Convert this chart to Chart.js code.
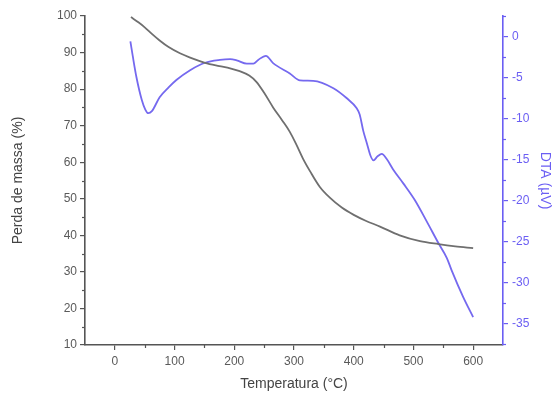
<!DOCTYPE html>
<html>
<head>
<meta charset="utf-8">
<script src="https://cdn.jsdelivr.net/npm/chart.js@4/dist/chart.umd.min.js"></script>
<style>
html,body{margin:0;padding:0;background:#fff;}
canvas{display:block;}
</style>
</head>
<body>
<canvas id="c" width="553" height="393"></canvas>
<script>
// TGA (mass loss) curve
const tgaTemps = [27, 40, 50, 62, 75, 90, 109, 125, 151, 175, 193, 209, 225, 237, 250, 265, 280, 293, 304, 315, 327, 343, 360, 380, 400, 420, 444, 477, 511, 542, 570, 600];
const tgaValues = [99.7, 98.2, 96.9, 95.1, 93.3, 91.5, 89.8, 88.7, 87.2, 86.3, 85.7, 84.9, 83.7, 82.0, 79.0, 75.0, 71.5, 68.3, 64.8, 61.0, 57.5, 53.3, 50.3, 47.6, 45.6, 44.0, 42.4, 40.0, 38.4, 37.6, 37.0, 36.5];
// DTA curve
const dtaTemps = [26, 30, 36, 45, 51, 56, 62, 75, 90, 103, 126, 151, 176, 193, 204, 221, 232, 240, 253, 265, 293, 310, 332, 366, 388, 405, 410, 416, 422, 428, 433, 440, 447, 455, 466, 483, 502, 522, 542, 556, 564, 583, 600];
const dtaValues = [-0.6, -2.4, -4.9, -7.7, -8.9, -9.35, -9.1, -7.4, -6.2, -5.3, -4.1, -3.2, -2.85, -2.76, -2.9, -3.3, -3.3, -2.85, -2.35, -3.25, -4.5, -5.35, -5.4, -6.3, -7.5, -8.75, -9.5, -11.5, -13.0, -14.5, -15.1, -14.6, -14.3, -14.9, -16.2, -17.9, -19.9, -22.5, -25.2, -27.0, -28.5, -31.7, -34.2];

const xTicks = [0, 100, 200, 300, 400, 500, 600];
const xMinor = [50, 150, 250, 350, 450, 550];
const yTicks = [10, 20, 30, 40, 50, 60, 70, 80, 90, 100];
const yMinor = [15, 25, 35, 45, 55, 65, 75, 85, 95];
const y2Ticks = [0, -5, -10, -15, -20, -25, -30, -35];
const y2Minor = [2.5, -2.5, -7.5, -12.5, -17.5, -22.5, -27.5, -32.5, -37.5];

const GRAY = '#6f6f6f';
const AXIS = '#555555';
const BLUE = '#7569ef';
const BLUE_AX = '#6b5ef3';
const FONT = 'Liberation Sans, Arial, sans-serif';

const minorPlugin = {
  id: 'minorTicks',
  afterDraw(chart) {
    const ctx = chart.ctx;
    ctx.save();
    ctx.lineWidth = 1.2;
    const x = chart.scales.x, y = chart.scales.y, y2 = chart.scales.y2;
    ctx.strokeStyle = AXIS;
    xMinor.forEach(v => {
      const px = Math.round(x.getPixelForValue(v)) + 0.5;
      ctx.beginPath(); ctx.moveTo(px, x.top); ctx.lineTo(px, x.top + 3); ctx.stroke();
    });
    yMinor.forEach(v => {
      const py = Math.round(y.getPixelForValue(v)) + 0.5;
      ctx.beginPath(); ctx.moveTo(y.right, py); ctx.lineTo(y.right - 3, py); ctx.stroke();
    });
    ctx.strokeStyle = BLUE_AX;
    y2Minor.forEach(v => {
      const py = Math.round(y2.getPixelForValue(v)) + 0.5;
      ctx.beginPath(); ctx.moveTo(y2.left, py); ctx.lineTo(y2.left + 3, py); ctx.stroke();
    });
    ctx.restore();
  }
};

new Chart(document.getElementById('c'), {
  type: 'line',
  data: {
    datasets: [
      {
        label: 'TGA',
        data: tgaTemps.map((t, i) => ({x: t, y: tgaValues[i]})),
        borderColor: GRAY,
        borderWidth: 1.8,
        pointRadius: 0,
        cubicInterpolationMode: 'monotone',
        yAxisID: 'y'
      },
      {
        label: 'DTA',
        data: dtaTemps.map((t, i) => ({x: t, y: dtaValues[i]})),
        borderColor: BLUE,
        borderWidth: 1.8,
        pointRadius: 0,
        cubicInterpolationMode: 'monotone',
        yAxisID: 'y2'
      }
    ]
  },
  options: {
    responsive: false,
    animation: false,
    layout: {padding: {top: 16, left: 0, right: 0, bottom: 0}},
    plugins: {legend: {display: false}, tooltip: {enabled: false}},
    scales: {
      x: {
        type: 'linear',
        min: -50, max: 650,
        afterBuildTicks: s => { s.ticks = xTicks.map(v => ({value: v})); },
        afterFit: s => { s.height = 48; },
        border: {display: true, color: AXIS, width: 1.6},
        grid: {display: true, drawOnChartArea: false, drawTicks: true, tickLength: 5, color: AXIS, lineWidth: 1.2},
        ticks: {color: '#5a5a5a', font: {family: FONT, size: 12}, padding: 4, maxRotation: 0},
        title: {display: true, text: 'Temperatura (°C)', color: '#444', font: {family: FONT, size: 14}, padding: {top: 0, bottom: 0}}
      },
      y: {
        position: 'left',
        min: 10, max: 100,
        afterBuildTicks: s => { s.ticks = yTicks.map(v => ({value: v})); },
        afterFit: s => { s.width = 85; },
        border: {display: true, color: AXIS, width: 1.6},
        grid: {display: true, drawOnChartArea: false, drawTicks: true, tickLength: 5, color: AXIS, lineWidth: 1.2},
        ticks: {color: '#5a5a5a', font: {family: FONT, size: 12}, padding: 3},
        title: {display: true, text: 'Perda de massa (%)', color: '#444', font: {family: FONT, size: 14}, padding: {top: 10, bottom: 0}}
      },
      y2: {
        position: 'right',
        min: -37.6, max: 2.5,
        afterBuildTicks: s => { s.ticks = y2Ticks.map(v => ({value: v})); },
        afterFit: s => { s.width = 50; },
        border: {display: true, color: BLUE_AX, width: 1.6},
        grid: {display: true, drawOnChartArea: false, drawTicks: true, tickLength: 5, color: BLUE_AX, lineWidth: 1.2},
        ticks: {color: BLUE_AX, font: {family: FONT, size: 12}, padding: 4},
        title: {display: true, text: 'DTA (µV)', color: BLUE_AX, font: {family: FONT, size: 14}, padding: {top: 0, bottom: 0}}
      }
    }
  },
  plugins: [minorPlugin]
});
</script>
</body>
</html>
